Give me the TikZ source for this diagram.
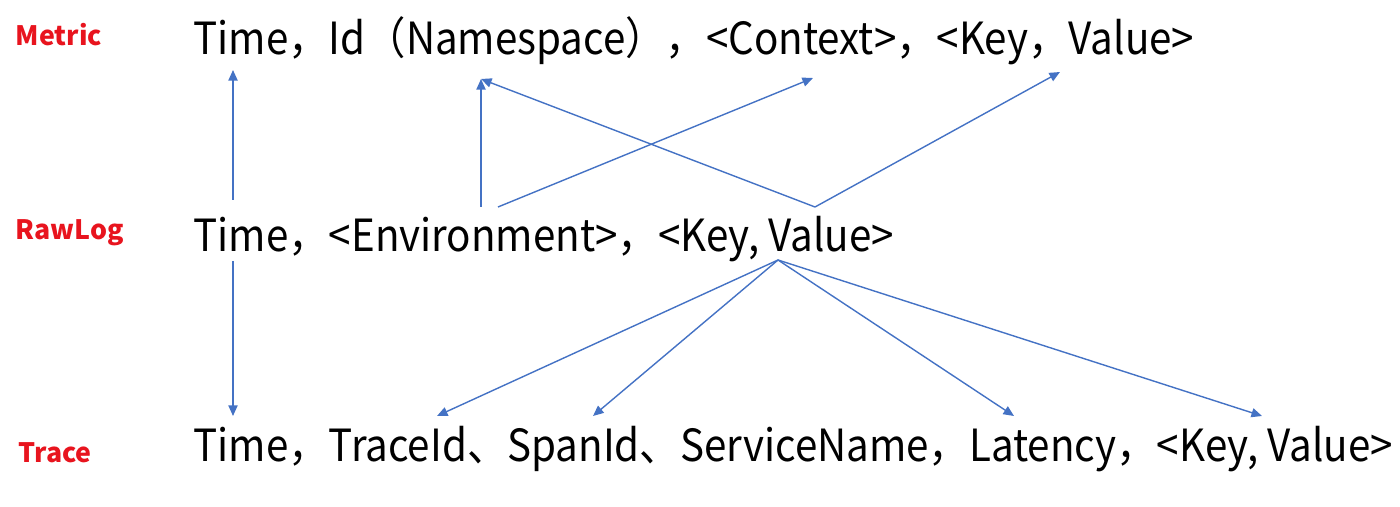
\documentclass[tikz,border=0pt]{standalone}
\usepackage{fontspec}
\setmainfont{Noto Sans CJK SC}
\newfontfamily\rowfont[FakeStretch=0.91]{Noto Sans CJK SC}
\usetikzlibrary{arrows.meta}
\definecolor{linkblue}{HTML}{4472C4}
\definecolor{tagred}{HTML}{E8141E}

\begin{document}
\begin{tikzpicture}[x=0.01cm, y=-0.01cm, row/.style={anchor=base west, inner sep=0pt, font=\rowfont\fontsize{12.6}{14}\selectfont}, tag/.style={anchor=base west, inner sep=0pt, text=tagred, font=\bfseries\fontsize{7.6}{9}\selectfont}, link/.style={-{Triangle[length=3pt,width=2.6pt]}, linkblue, line width=0.4pt}]
\useasboundingbox (0,0) rectangle (1400,507);
% row labels
\node[tag] (metric) at (15,46) {Metric};
\node[tag] (rawlog) at (15,240) {RawLog};
\node[tag] (trace) at (18,463) {Trace};
% the three records
\node[row] (metricrow) at (193,55) {Time，Id（Namespace），<Context>，<Key，Value>};
\node[row] (rawrow) at (193,252) {Time，<Environment>，<Key, Value>};
\node[row] (tracerow) at (193,462) {Time，TraceId、SpanId、ServiceName，Latency，<Key, Value>};
% arrow ends
\coordinate (mTime) at (233,70); \coordinate (mNs) at (481,79); \coordinate (mCtx) at (813,78); \coordinate (mKv) at (1060,72);
\coordinate (rTimeUp) at (233,200); \coordinate (rTimeDn) at (233,261); \coordinate (rEnv) at (481,207); \coordinate (rEnvR) at (498,207);
\coordinate (rKvUp) at (815,207); \coordinate (rKvDn) at (778,260);
\coordinate (tTime) at (233,416); \coordinate (tTrace) at (437,416); \coordinate (tSpan) at (593,416); \coordinate (tLat) at (1014,416); \coordinate (tKv) at (1262,416);
% upward links
\draw[link] (rTimeUp)--(mTime); \draw[link] (rEnv)--(mNs); \draw[link] (rEnvR)--(mCtx);
\draw[link] (rKvUp)--(mNs); \draw[link] (rKvUp)--(mKv);
% downward links
\draw[link] (rTimeDn)--(tTime);
\foreach \t in {tTrace,tSpan,tLat,tKv} \draw[link] (rKvDn)--(\t);
\end{tikzpicture}
\end{document}
